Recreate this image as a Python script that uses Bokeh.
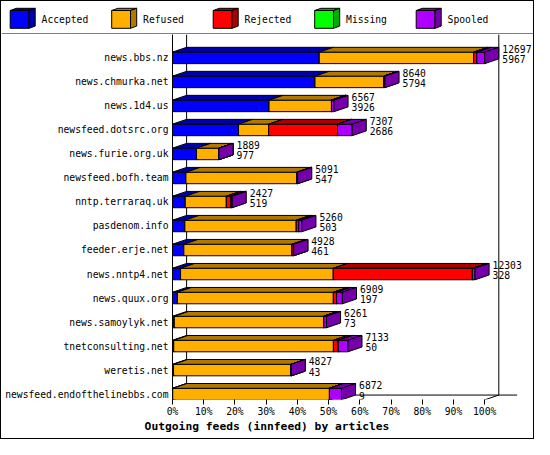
from bokeh.plotting import figure
from bokeh.models import Range1d, FixedTicker, PrintfTickFormatter, ColumnDataSource
from bokeh.layouts import column
from bokeh.embed import file_html
from bokeh.resources import INLINE
from bokeh.core.properties import value

# ---------------- data ----------------
sites = ["news.bbs.nz", "news.chmurka.net", "news.1d4.us", "newsfeed.dotsrc.org",
         "news.furie.org.uk", "newsfeed.bofh.team", "nntp.terraraq.uk", "pasdenom.info",
         "feeder.erje.net", "news.nntp4.net", "news.quux.org", "news.samoylyk.net",
         "tnetconsulting.net", "weretis.net", "newsfeed.endofthelinebbs.com"]
offered = [12697, 8640, 6567, 7307, 1889, 5091, 2427, 5260, 4928, 12303, 6909, 6261, 7133, 4827, 6872]
accepted = [5967, 5794, 3926, 2686, 977, 547, 519, 503, 461, 328, 197, 73, 50, 43, 9]
refused = [6280, 2806, 2540, 1225, 912, 4524, 1671, 4530, 4400, 6211, 6345, 6078, 6495, 4784, 6375]
rejected = [130, 0, 0, 2803, 0, 0, 197, 100, 67, 5659, 131, 0, 196, 0, 0]
missing = [0, 0, 0, 0, 0, 0, 0, 0, 0, 0, 0, 0, 0, 0, 0]
spooled = [320, 40, 101, 593, 0, 20, 40, 127, 0, 105, 236, 110, 392, 0, 488]
series_names = ["Accepted", "Refused", "Rejected", "Missing", "Spooled"]
series_colors = ["#0000FF", "#FFAF00", "#FF0000", "#00FF00", "#AF00FF"]
series_dark = ["#0000AA", "#B07800", "#AA0000", "#00AA00", "#7500AA"]
pct_ticks = [0, 10, 20, 30, 40, 50, 60, 70, 80, 90, 100]
title_text = "Outgoing feeds (innfeed) by articles"

# ---------------- style / geometry ----------------
FONT = "DejaVu Sans Mono"
FS = "9.7px"
W = 532
LEG_H = 33
MAIN_H = 385
TITLE_H = 19
MB_LEFT = 171
MB_BOTTOM = 19
PX_PER_PCT = 3.1221
ROW_PX = 24.08
ROW0_PX = 23.44
frame_w = W - MB_LEFT
frame_h = MAIN_H - MB_BOTTOM
DX = 14.1 / PX_PER_PCT      # 3D depth, in percent units
DY = 4.8 / ROW_PX           # 3D depth, in row units
HH = 0.24                   # half bar height, row units
FLOOR_EXT = 110.4           # back floor line end, percent units

n = len(sites)
vmax = max(offered)
series = [accepted, refused, rejected, missing, spooled]

# ---------------- main chart ----------------
p = figure(width=W, height=MAIN_H, output_backend="svg", toolbar_location=None,
           x_range=Range1d(0, frame_w / PX_PER_PCT),
           y_range=Range1d(start=(frame_h - ROW0_PX) / ROW_PX, end=-ROW0_PX / ROW_PX),
           min_border_left=MB_LEFT, min_border_right=0, min_border_top=0,
           min_border_bottom=MB_BOTTOM)
p.frame_align = False
p.outline_line_color = None
p.xgrid.visible = False
p.ygrid.visible = False
p.background_fill_color = "white"
p.border_fill_color = "white"

# x axis
xa = p.xaxis[0]
xa.ticker = FixedTicker(ticks=pct_ticks)
xa.formatter = PrintfTickFormatter(format="%d%%")
xa.axis_line_color = None
xa.major_tick_in = 0
xa.major_tick_out = 5
xa.minor_tick_in = 0
xa.minor_tick_out = 0
xa.major_tick_line_color = "black"
xa.major_label_standoff = 1
xa.major_label_text_font = FONT
xa.major_label_text_font_size = FS
xa.major_label_text_color = "black"

# y axis
ya = p.yaxis[0]
ya.ticker = FixedTicker(ticks=list(range(n)))
ya.major_label_overrides = {i: s for i, s in enumerate(sites)}
ya.axis_line_color = "black"
ya.major_tick_in = 0
ya.major_tick_out = 0
ya.minor_tick_in = 0
ya.minor_tick_out = 0
ya.major_label_standoff = 4
ya.major_label_text_font = FONT
ya.major_label_text_font_size = FS
ya.major_label_text_color = "black"

# 3D frame lines
ytop = p.y_range.end
yb = (n - 1) + HH
p.segment(x0=[DX, 100 + DX, DX, 100], y0=[ytop, ytop, yb - DY, yb],
          x1=[DX, 100 + DX, FLOOR_EXT, 100 + DX], y1=[yb - DY, yb - DY, yb - DY, yb - DY],
          line_color="black", line_width=1)

# 3D stacked bars
xs, ys, fills = [], [], []
for i in range(n):
    top, bot = i - HH, i + HH
    left = 0.0
    for k in range(len(series)):
        w = series[k][i] / vmax * 100.0
        a, b = left, left + w
        xs.append([a, b, b, a]); ys.append([bot, bot, top, top]); fills.append(series_colors[k])
        xs.append([a, b, b + DX, a + DX]); ys.append([top, top, top - DY, top - DY]); fills.append(series_dark[k])
        xs.append([b, b + DX, b + DX, b]); ys.append([bot, bot - DY, top - DY, top]); fills.append(series_dark[k])
        left = b
src = ColumnDataSource(dict(xs=xs, ys=ys, fill=fills))
p.patches("xs", "ys", source=src, fill_color="fill", line_color="black", line_width=1)

# value labels
lab_x = [o / vmax * 100.0 + DX for o in offered]
p.text(x=lab_x, y=[i - 0.382 for i in range(n)], text=[str(o) for o in offered],
       x_offset=3.5, text_baseline="middle", text_align="left",
       text_font=value(FONT), text_font_size=FS, text_color="black")
p.text(x=lab_x, y=[i + 0.06 for i in range(n)], text=[str(a) for a in accepted],
       x_offset=3.5, text_baseline="middle", text_align="left",
       text_font=value(FONT), text_font_size=FS, text_color="black")

# ---------------- legend strip ----------------
leg = figure(width=W, height=LEG_H, output_backend="svg", toolbar_location=None,
             x_range=Range1d(0, W), y_range=Range1d(LEG_H, 0),
             x_axis_type=None, y_axis_type=None,
             min_border_left=0, min_border_right=0, min_border_top=0, min_border_bottom=0)
leg.frame_align = False
leg.outline_line_color = None
leg.xgrid.visible = False
leg.ygrid.visible = False
LX0, LSTEP, LBOX, LT, LDX, LDY = 8.7, 101.5, 18.8, 9.0, 6.2, 2.2
lxs, lys, lfill = [], [], []
for k in range(len(series_names)):
    L = LX0 + k * LSTEP
    R = L + LBOX
    T, B = LT, LT + LBOX - 1
    lxs.append([L, R, R, L]); lys.append([B, B, T, T]); lfill.append(series_colors[k])
    lxs.append([L, R, R + LDX, L + LDX]); lys.append([T, T, T - LDY, T - LDY]); lfill.append(series_dark[k])
    lxs.append([R, R + LDX, R + LDX, R]); lys.append([B, B - LDY, T - LDY, T]); lfill.append(series_dark[k])
leg.patches(xs=lxs, ys=lys, fill_color=lfill, line_color="black", line_width=1)
leg.text(x=[LX0 + k * LSTEP + 31.4 for k in range(len(series_names))],
         y=[18.3] * len(series_names), text=series_names,
         text_baseline="middle", text_align="left",
         text_font=value(FONT), text_font_size=FS, text_color="black")
leg.segment(x0=[0], y0=[LEG_H - 0.5], x1=[W], y1=[LEG_H - 0.5], line_color="black", line_width=1)

# ---------------- title strip ----------------
tf = figure(width=W, height=TITLE_H, output_backend="svg", toolbar_location=None,
            x_range=Range1d(0, W), y_range=Range1d(TITLE_H, 0),
            x_axis_type=None, y_axis_type=None,
            min_border_left=0, min_border_right=0, min_border_top=0, min_border_bottom=0)
tf.frame_align = False
tf.outline_line_color = None
tf.xgrid.visible = False
tf.ygrid.visible = False
tf.text(x=[265.5], y=[7.2], text=[title_text], text_align="center", text_baseline="middle",
        text_font=value(FONT), text_font_style="bold", text_font_size="11.3px", text_color="black")

layout = column(leg, p, tf, spacing=0, styles={"border": "1px solid black"})

with open("out.html", "w") as f:
    f.write(file_html(layout, INLINE))
